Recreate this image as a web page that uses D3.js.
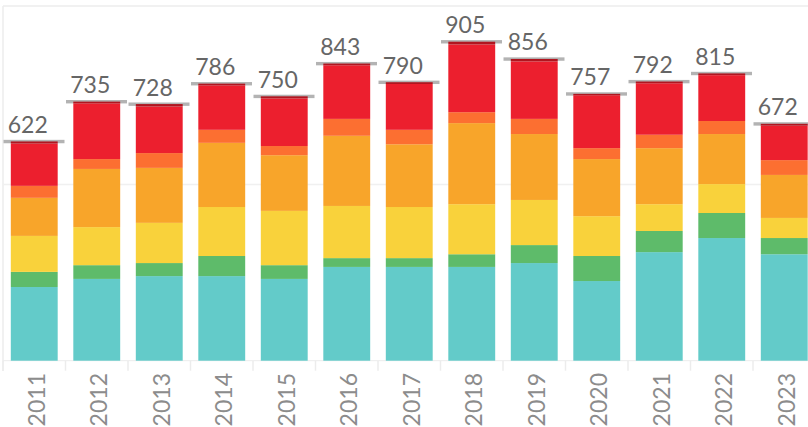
<!DOCTYPE html>
<html>
<head>
<meta charset="utf-8">
<script src="https://cdn.jsdelivr.net/npm/d3@7/dist/d3.min.js"></script>
<style>
  html, body { margin: 0; padding: 0; background: #fff; }
  svg { display: block; }
</style>
</head>
<body>
<svg id="chart" width="808" height="427"></svg>
<script>
const years = ["2011","2012","2013","2014","2015","2016","2017","2018","2019","2020","2021","2022","2023"];
const totals = [622, 735, 728, 786, 750, 843, 790, 905, 856, 757, 792, 815, 672];
const teal    = [209, 232, 240, 240, 232, 266, 266, 266, 277, 226, 308, 348, 302];
const green   = [ 43,  39,  37,  57,  39,  25,  25,  36,  51,  71,  60,  71,  46];
const yellow  = [102, 108, 114, 139, 154, 148, 145, 142, 128, 113,  76,  82,  57];
const orange  = [108, 165, 156, 182, 158, 199, 178, 230, 187, 162, 159, 142, 122];
const dorange = [ 34,  28,  42,  37,  26,  48,  41,  31,  43,  31,  38,  37,  42];
const red     = [120, 158, 132, 126, 135, 152, 130, 192, 163, 150, 146, 130,  98];
const darkred = [  6,   5,   7,   5,   6,   5,   5,   8,   7,   4,   5,   5,   5];
const yTicks = [500, 1000];

const seriesNames = ["teal","green","yellow","orange","dorange","red","darkred"];
const seriesData = [teal, green, yellow, orange, dorange, red, darkred];
const colors = {
  teal: "#63CBC9", green: "#5EBB6A", yellow: "#F9D23B", orange: "#F8A52A",
  dorange: "#FC6F31", red: "#EC1F2E", darkred: "#B1151F"
};

const rows = years.map((y, i) => {
  const r = { year: y, total: totals[i] };
  seriesNames.forEach((s, j) => r[s] = seriesData[j][i]);
  return r;
});

const svg = d3.select("#chart");
const x = d3.scaleBand().domain(years).range([3, 815.5]).paddingInner(0.25).paddingOuter(0.125);
const y = d3.scaleLinear().domain([0, 1000]).range([360.7, 8.2]);
const step = x.step();
const gap = (step - x.bandwidth()) / 2;

// pane borders
svg.append("line").attr("x1", 3).attr("x2", 808).attr("y1", 6).attr("y2", 6)
  .attr("stroke", "#ececec").attr("stroke-width", 1.5);
svg.append("line").attr("x1", 3).attr("x2", 3).attr("y1", 6).attr("y2", 371)
  .attr("stroke", "#ececec").attr("stroke-width", 1.5);

// gridline
svg.append("line").attr("x1", 3).attr("x2", 808).attr("y1", y(yTicks[0])).attr("y2", y(yTicks[0]))
  .attr("stroke", "#f0f0f0").attr("stroke-width", 1.5);

// baseline and tick separators
svg.append("line").attr("x1", 3).attr("x2", 808).attr("y1", y(0)).attr("y2", y(0))
  .attr("stroke", "#ececec").attr("stroke-width", 1);
svg.append("g").selectAll("line").data(years).join("line")
  .attr("x1", d => x(d) - gap)
  .attr("x2", d => x(d) - gap)
  .attr("y1", y(0)).attr("y2", y(0) + 10)
  .attr("stroke", "#ececec").attr("stroke-width", 1.5);

// total cap lines
svg.append("g").selectAll("rect").data(rows).join("rect")
  .attr("x", d => x(d.year) - gap + 0.5)
  .attr("width", step - 1.5)
  .attr("y", d => y(d.total) - 1.6)
  .attr("height", 3.4)
  .attr("fill", "#b3b3b3");

// stacked bars
const stack = d3.stack().keys(seriesNames);
const stacked = stack(rows);
svg.append("g").selectAll("g").data(stacked).join("g")
  .attr("fill", d => colors[d.key])
  .selectAll("rect").data(d => d).join("rect")
  .attr("x", d => x(d.data.year))
  .attr("width", x.bandwidth())
  .attr("y", d => y(d[1]))
  .attr("height", d => y(d[0]) - y(d[1]));

// value labels
svg.append("g").selectAll("text").data(rows).join("text")
  .attr("x", d => x(d.year) + x.bandwidth() / 2 - 6.5)
  .attr("y", d => y(d.total) - 8.5)
  .attr("text-anchor", "middle")
  .attr("font-family", "Lato, 'Open Sans', sans-serif")
  .attr("font-size", 23)
  .attr("fill", "#666666")
  .text(d => d.total);

// x axis labels (rotated)
svg.append("g").selectAll("text").data(years).join("text")
  .attr("transform", d => `translate(${x(d) + x.bandwidth() / 2 + 2},373) rotate(-90)`)
  .attr("text-anchor", "end")
  .attr("dy", "0.36em")
  .attr("font-family", "Lato, 'Open Sans', sans-serif")
  .attr("font-size", 23)
  .attr("fill", "#8c8c8c")
  .text(d => d);
</script>
</body>
</html>
